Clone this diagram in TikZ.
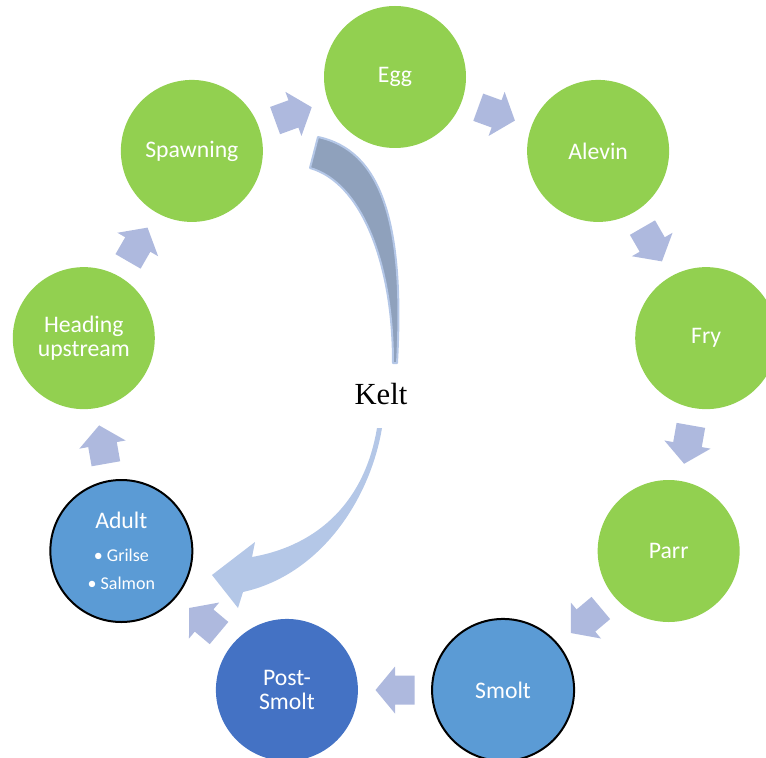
\documentclass[tikz,border=0pt]{standalone}
\usepackage{fontspec}
\setmainfont{Carlito}
\newfontfamily\keltfont{Liberation Serif}
\usepackage{tikz}
\usetikzlibrary{positioning}

\definecolor{stagegreen}{HTML}{92D050}
\definecolor{stageblue}{HTML}{5B9BD5}
\definecolor{stagedark}{HTML}{4472C4}
\definecolor{cyclearrow}{HTML}{AEB9DE}
\definecolor{keltlight}{HTML}{B4C7E7}
\definecolor{keltdark}{HTML}{8FA1BC}

\begin{document}
\begin{tikzpicture}[
	x = 0.75pt, y = 0.75pt,
	stage/.style={circle, minimum size=106.5pt, inner sep=0pt, text=white, align=center,
		font=\fontsize{17.8}{18.5}\selectfont},
	green/.style={stage, fill=stagegreen},
	sea/.style={stage, fill=stageblue, draw=black, line width=1.5pt},
	stagearrow/.style={fill=cyclearrow},
	]
	\useasboundingbox (-395,-364) rectangle (371,393);
	\clip (-395,-364) rectangle (371,393);

	% life stages round the ring
	\node (egg) [green] at (90:316) {Egg};
	\node (alevin) [green] at (50:316) {Alevin};
	\node (fry) [green] at (10:316) {Fry};
	\node (parr) [green] at (-30:316) {Parr};
	\node (smolt) [sea] at (-70:316) {Smolt};
	\node (postsmolt) [stage, fill=stagedark] at (-110:316) {Post-\\Smolt};
	\node (adult) [sea] at (-150:316) {Adult\\[6pt]{\fontsize{13.5}{14}\selectfont \textbullet\ Grilse}\\[3pt]{\fontsize{13.5}{14}\selectfont \textbullet\ Salmon}};
	\node (upstream) [green] at (170:316) {Heading\\upstream};
	\node (spawning) [green] at (130:316) {Spawning};

	% block arrows between the stages
	\foreach \a in {110,70,30,-10,-50,-90,-130,-170,150}
		\fill[stagearrow, shift={(\a:297)}, rotate=\a-90]
			(-19.5,-14.5) -- (0,-14.5) -- (0,-23.5) -- (19.5,0) -- (0,23.5) -- (0,14.5) -- (-19.5,14.5) -- cycle;

	% kelt return
	\draw[fill=keltdark, draw=keltlight, line width=1.5pt, line join=round]
		(-77,256) .. controls (-15,243) and (10,173) .. (2,30) -- (-2,30)
		.. controls (-2,133) and (-35,211) .. (-85,225) -- cycle;
	\node (kelt) at (-14,-1) {\keltfont\fontsize{23}{24}\selectfont Kelt};
	\fill[keltlight] (-18,-35) .. controls (-30,-107) and (-75,-152) .. (-143,-164)
		-- (-140,-149) -- (-183,-182) -- (-157,-215) -- (-152,-199)
		.. controls (-75,-182) and (-25,-107) .. (-13,-35) -- cycle;
\end{tikzpicture}
\end{document}
